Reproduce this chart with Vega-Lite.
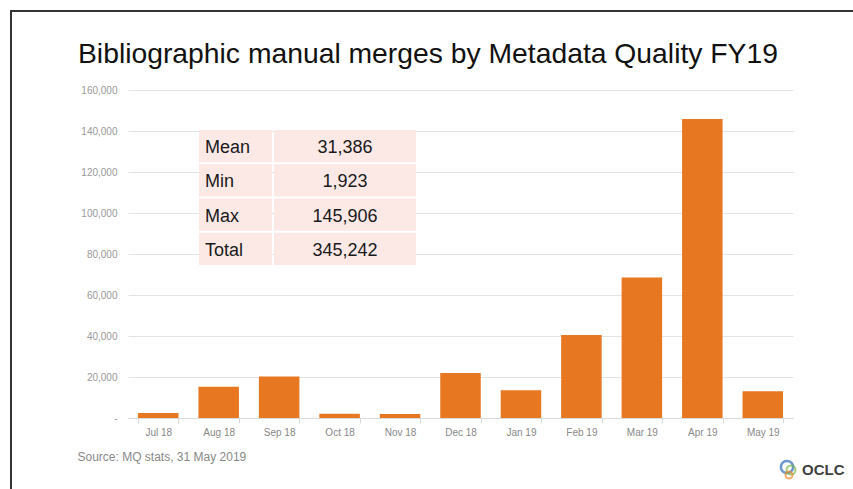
{
  "$schema": "https://vega.github.io/schema/vega-lite/v6.json",
  "width": 665,
  "height": 328,
  "autosize": {"type": "none"},
  "padding": {"left": 128, "top": 90, "right": 60, "bottom": 71},
  "background": "white",
  "config": {"font": "Liberation Sans", "view": {"stroke": null}},
  "title": {
    "text": "Bibliographic manual merges by Metadata Quality FY19",
    "anchor": "start",
    "frame": "group",
    "dx": -50,
    "dy": 100,
    "offset": 19,
    "baseline": "alphabetic",
    "fontSize": 28.3,
    "fontWeight": "normal",
    "color": "#111111"
  },
  "layer": [
    {
      "data": {
        "values": [
          {"month": "Jul 18", "merges": 2400},
          {"month": "Aug 18", "merges": 15200},
          {"month": "Sep 18", "merges": 20300},
          {"month": "Oct 18", "merges": 2013},
          {"month": "Nov 18", "merges": 1923},
          {"month": "Dec 18", "merges": 22000},
          {"month": "Jan 19", "merges": 13500},
          {"month": "Feb 19", "merges": 40500},
          {"month": "Mar 19", "merges": 68500},
          {"month": "Apr 19", "merges": 145906},
          {"month": "May 19", "merges": 13000}
        ]
      },
      "mark": {"type": "bar", "color": "#E87722"},
      "encoding": {
        "x": {
          "field": "month",
          "type": "nominal",
          "sort": null,
          "scale": {"paddingInner": 0.33, "paddingOuter": 0.165},
          "axis": {
            "title": "Source: MQ stats, 31 May 2019",
            "labelAngle": 0,
            "tickBand": "extent",
            "domainColor": "#d9d9d9",
            "tickColor": "#d9d9d9",
            "tickSize": 5,
            "labelPadding": 4,
            "labelFontSize": 10,
            "labelColor": "#888888",
            "grid": false,
            "titleAnchor": "start",
            "titleAlign": "left",
            "titleX": -51,
            "titleY": 38,
            "titleBaseline": "middle",
            "titleFontSize": 12,
            "titleFontWeight": "normal",
            "titleColor": "#888888"
          }
        },
        "y": {
          "field": "merges",
          "type": "quantitative",
          "scale": {"domain": [0, 160000], "nice": false},
          "axis": {
            "title": null,
            "values": [0, 20000, 40000, 60000, 80000, 100000, 120000, 140000, 160000],
            "labelExpr": "datum.value === 0 ? '-  ' : format(datum.value, ',')",
            "grid": true,
            "gridColor": "#e3e3e3",
            "domain": false,
            "ticks": false,
            "labelPadding": 11,
            "labelFontSize": 10,
            "labelColor": "#999999"
          }
        }
      }
    },
    {
      "data": {
        "values": [
          {"stat": "Mean", "value": "31,386"},
          {"stat": "Min", "value": "1,923"},
          {"stat": "Max", "value": "145,906"},
          {"stat": "Total", "value": "345,242"}
        ]
      },
      "encoding": {
        "y": {
          "field": "stat",
          "type": "nominal",
          "sort": ["Mean", "Min", "Max", "Total"],
          "scale": {"range": [40, 175], "paddingInner": 0.06, "paddingOuter": 0},
          "axis": null
        }
      },
      "layer": [
        {
          "mark": {"type": "rect", "color": "#fce9e6"},
          "encoding": {
            "x": {"datum": 0, "type": "quantitative", "scale": {"domain": [0, 217], "range": [71, 288], "nice": false, "zero": false}, "axis": null},
            "x2": {"datum": 73}
          }
        },
        {
          "mark": {"type": "rect", "color": "#fce9e6"},
          "encoding": {
            "x": {"datum": 75, "type": "quantitative", "scale": {"domain": [0, 217], "range": [71, 288], "nice": false, "zero": false}, "axis": null},
            "x2": {"datum": 217}
          }
        },
        {
          "mark": {"type": "text", "align": "left", "baseline": "middle", "dy": 2, "fontSize": 18, "color": "#1a1a1a"},
          "encoding": {
            "x": {"datum": 6, "type": "quantitative", "scale": {"domain": [0, 217], "range": [71, 288], "nice": false, "zero": false}, "axis": null},
            "text": {"field": "stat"}
          }
        },
        {
          "mark": {"type": "text", "align": "center", "baseline": "middle", "dy": 2, "fontSize": 18, "color": "#1a1a1a"},
          "encoding": {
            "x": {"datum": 146, "type": "quantitative", "scale": {"domain": [0, 217], "range": [71, 288], "nice": false, "zero": false}, "axis": null},
            "text": {"field": "value"}
          }
        }
      ]
    },
    {
      "data": {"values": [{"brand": "OCLC"}]},
      "layer": [
        {
          "mark": {"type": "rect", "fill": "transparent", "stroke": "#333333", "strokeWidth": 2},
          "encoding": {
            "x": {"datum": 11, "type": "quantitative", "scale": {"domain": [0, 853], "range": [-128, 725], "nice": false, "zero": false}, "axis": null},
            "x2": {"datum": 1400},
            "y": {"datum": 11, "type": "quantitative", "scale": {"domain": [0, 489], "range": [-90, 399], "nice": false, "zero": false}, "axis": null},
            "y2": {"datum": 1400}
          }
        },
        {
          "mark": {"type": "point", "shape": "circle", "filled": false, "size": 150, "strokeWidth": 2.5, "color": "#2a6ebb"},
          "encoding": {
            "x": {"datum": 787, "type": "quantitative", "scale": {"domain": [0, 853], "range": [-128, 725], "nice": false, "zero": false}, "axis": null},
            "y": {"datum": 467, "type": "quantitative", "scale": {"domain": [0, 489], "range": [-90, 399], "nice": false, "zero": false}, "axis": null}
          }
        },
        {
          "mark": {"type": "point", "shape": "circle", "filled": false, "size": 81, "strokeWidth": 2, "color": "#7ab648"},
          "encoding": {
            "x": {"datum": 791, "type": "quantitative", "scale": {"domain": [0, 853], "range": [-128, 725], "nice": false, "zero": false}, "axis": null},
            "y": {"datum": 470, "type": "quantitative", "scale": {"domain": [0, 489], "range": [-90, 399], "nice": false, "zero": false}, "axis": null}
          }
        },
        {
          "mark": {"type": "point", "shape": "circle", "filled": false, "size": 49, "strokeWidth": 2, "color": "#f08a2c"},
          "encoding": {
            "x": {"datum": 789, "type": "quantitative", "scale": {"domain": [0, 853], "range": [-128, 725], "nice": false, "zero": false}, "axis": null},
            "y": {"datum": 475, "type": "quantitative", "scale": {"domain": [0, 489], "range": [-90, 399], "nice": false, "zero": false}, "axis": null}
          }
        },
        {
          "mark": {"type": "text", "align": "left", "baseline": "middle", "fontSize": 15, "fontWeight": "bold", "color": "#404040"},
          "encoding": {
            "x": {"datum": 802, "type": "quantitative", "scale": {"domain": [0, 853], "range": [-128, 725], "nice": false, "zero": false}, "axis": null},
            "y": {"datum": 470, "type": "quantitative", "scale": {"domain": [0, 489], "range": [-90, 399], "nice": false, "zero": false}, "axis": null},
            "text": {"field": "brand"}
          }
        }
      ]
    }
  ],
  "resolve": {"scale": {"x": "independent", "y": "independent"}}
}
